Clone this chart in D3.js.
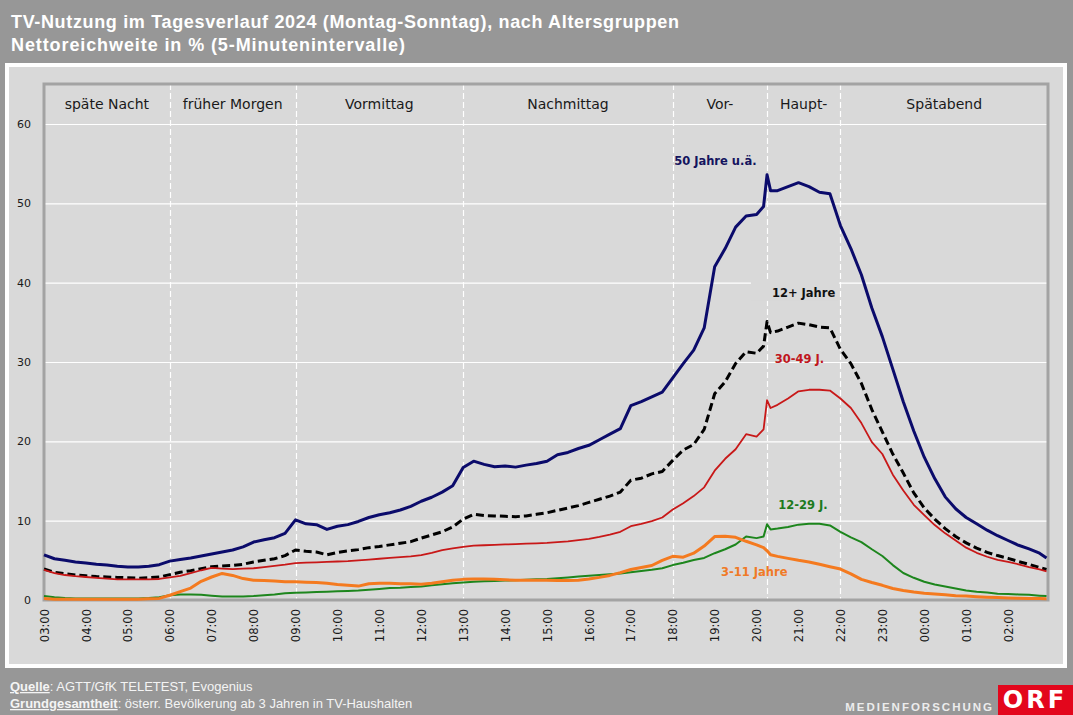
<!DOCTYPE html>
<html><head><meta charset="utf-8">
<script src="https://cdn.jsdelivr.net/npm/d3@7"></script>
<style>
body{margin:0;background:#979797;overflow:hidden}
svg{display:block}
</style>
</head><body>
<svg id="chart" width="1073" height="715"></svg>
<script>
// ---------------- DATA ----------------
const times = [
"03:00","03:15","03:30","03:45","04:00","04:15","04:30","04:45",
"05:00","05:15","05:30","05:45","06:00","06:15","06:30","06:45",
"07:00","07:15","07:30","07:45","08:00","08:15","08:30","08:45",
"09:00","09:15","09:30","09:45","10:00","10:15","10:30","10:45",
"11:00","11:15","11:30","11:45","12:00","12:15","12:30","12:45",
"13:00","13:15","13:30","13:45","14:00","14:15","14:30","14:45",
"15:00","15:15","15:30","15:45","16:00","16:15","16:30","16:45",
"17:00","17:15","17:30","17:45","18:00","18:15","18:30","18:45",
"19:00","19:15","19:30","19:45","20:00","20:10","20:15","20:20","20:30","20:45",
"21:00","21:15","21:30","21:45","22:00","22:15","22:30","22:45",
"23:00","23:15","23:30","23:45","00:00","00:15","00:30","00:45",
"01:00","01:15","01:30","01:45","02:00","02:15","02:30","02:45","02:55"];

const age50plus = [
5.7,5.2,5.0,4.8, 4.65,4.5,4.4,4.25,
4.15,4.15,4.25,4.45, 4.9,5.1,5.3,5.55,
5.8,6.05,6.3,6.7, 7.3,7.6,7.85,8.4,
10.1,9.6,9.5,8.9, 9.3,9.5,9.9,10.4,
10.75,11.0,11.35,11.8, 12.45,12.95,13.6,14.4,
16.7,17.5,17.1,16.8, 16.9,16.75,17.0,17.2,
17.5,18.3,18.6,19.1, 19.5,20.2,20.9,21.6,
24.5,25.0,25.6,26.2, 28.0,29.8,31.5,34.3,
42.0,44.3,47.0,48.4, 48.6,49.6,53.6,51.6,51.6,52.1,
52.6,52.1,51.4,51.2, 47.2,44.3,41.0,36.8,
33.2,29.1,25.0,21.3, 18.0,15.3,13.0,11.5,
10.4,9.6,8.8,8.1, 7.5,6.9,6.45,5.9,5.3];

const age12plus = [
3.9,3.5,3.3,3.15, 3.05,2.95,2.9,2.85,
2.8,2.75,2.8,2.9, 3.2,3.5,3.7,3.95,
4.2,4.3,4.35,4.5, 4.8,5.0,5.2,5.6,
6.3,6.15,6.05,5.7, 6.0,6.2,6.35,6.6,
6.75,6.95,7.15,7.35, 7.8,8.2,8.6,9.2,
10.2,10.8,10.65,10.6, 10.55,10.5,10.6,10.8,
11.0,11.3,11.6,11.9, 12.3,12.7,13.1,13.6,
15.1,15.35,15.9,16.2, 17.6,18.9,19.6,21.5,
26.0,27.5,29.8,31.3, 31.1,32.0,35.1,33.7,33.9,34.4,
34.9,34.7,34.4,34.3, 31.6,29.8,27.3,24.0,
21.2,18.4,16.0,13.5, 11.6,10.2,9.0,8.0,
7.2,6.55,6.0,5.6, 5.25,4.85,4.5,4.1,3.85];

const age30to49 = [
3.8,3.4,3.15,3.0, 2.9,2.8,2.7,2.6,
2.6,2.6,2.6,2.65, 2.85,3.05,3.4,3.75,
4.05,3.95,3.9,3.95, 4.0,4.15,4.3,4.45,
4.65,4.7,4.75,4.8, 4.85,4.9,5.0,5.1,
5.2,5.3,5.4,5.5, 5.65,5.95,6.3,6.5,
6.7,6.85,6.9,6.95, 7.0,7.05,7.1,7.15,
7.2,7.3,7.4,7.55, 7.7,7.95,8.25,8.6,
9.3,9.6,9.95,10.4, 11.4,12.2,13.1,14.2,
16.3,17.8,19.0,20.9, 20.6,21.5,25.2,24.2,24.6,25.4,
26.3,26.5,26.5,26.4, 25.4,24.2,22.3,19.9,
18.4,15.8,13.8,12.0, 10.7,9.45,8.4,7.5,
6.6,5.95,5.45,5.05, 4.8,4.5,4.15,3.85,3.6];

const age12to29 = [
0.5,0.35,0.25,0.2, 0.2,0.2,0.2,0.2,
0.2,0.2,0.25,0.35, 0.6,0.7,0.7,0.65,
0.55,0.45,0.45,0.45, 0.5,0.6,0.7,0.85,
0.9,0.95,1.0,1.05, 1.1,1.15,1.2,1.3,
1.4,1.5,1.55,1.65, 1.7,1.85,2.0,2.1,
2.2,2.3,2.35,2.4, 2.45,2.5,2.55,2.6,
2.65,2.75,2.85,2.95, 3.05,3.15,3.25,3.35,
3.5,3.65,3.8,4.0, 4.4,4.7,5.05,5.3,
5.9,6.4,7.0,8.0, 7.8,8.0,9.55,8.9,9.0,9.2,
9.5,9.6,9.6,9.4, 8.6,7.9,7.3,6.4,
5.55,4.4,3.4,2.8, 2.3,1.95,1.7,1.45,
1.2,1.05,0.95,0.8, 0.75,0.7,0.65,0.55,0.5];

const age3to11 = [
0.2,0.1,0.1,0.1, 0.1,0.1,0.1,0.1,
0.1,0.1,0.15,0.2, 0.6,1.05,1.5,2.35,
2.9,3.35,3.1,2.7, 2.5,2.45,2.4,2.3,
2.3,2.25,2.2,2.1, 1.95,1.85,1.75,2.05,
2.1,2.1,2.05,2.05, 2.0,2.1,2.3,2.5,
2.6,2.65,2.65,2.6, 2.55,2.5,2.5,2.5,
2.5,2.45,2.45,2.5, 2.65,2.85,3.1,3.45,
3.85,4.1,4.35,5.0, 5.5,5.4,5.9,6.8,
8.0,8.05,7.9,7.4, 6.95,6.6,6.2,5.7,5.5,5.25,
5.0,4.8,4.5,4.2, 3.9,3.3,2.6,2.2,
1.85,1.45,1.2,1.0, 0.85,0.75,0.65,0.55,
0.5,0.42,0.35,0.3, 0.25,0.22,0.2,0.18,0.17];

const yTickValues = [0,10,20,30,40,50,60];
const xTickLabels = ["03:00","04:00","05:00","06:00","07:00","08:00","09:00","10:00",
"11:00","12:00","13:00","14:00","15:00","16:00","17:00","18:00","19:00","20:00",
"21:00","22:00","23:00","00:00","01:00","02:00"];
const sectionStarts = ["03:00","06:00","09:00","13:00","18:00","20:15","22:00"];
const sectionNames = ["späte Nacht","früher Morgen","Vormittag","Nachmittag","Vor-","Haupt-","Spätabend"];

const titleLines = ["TV-Nutzung im Tagesverlauf 2024 (Montag-Sonntag), nach Altersgruppen",
                    "Nettoreichweite in % (5-Minutenintervalle)"];

// ---------------- LAYOUT ----------------
const svg = d3.select("#chart");
const W = 1073, H = 715;
const plot = {left:44, right:1048, top:84, bottom:600};
const bg = "#979797", panel = "#d9d9d9";

const toMin = s => { const [h,m] = s.split(":").map(Number); let v = h*60+m-180; if (v<0) v+=1440; return v; };
const x = d3.scaleLinear().domain([0,1440]).range([44,1050]);
const y = d3.scaleLinear().domain([0,60]).range([600,124]);

svg.append("rect").attr("width",W).attr("height",H).attr("fill",bg);
svg.append("rect").attr("x",5).attr("y",63).attr("width",1062).attr("height",605).attr("fill","#ffffff");
svg.append("rect").attr("x",9).attr("y",67).attr("width",1054).attr("height",597).attr("fill",panel);

// title
const title = svg.append("g").attr("font-family","'Liberation Sans', Arial, sans-serif")
  .attr("font-weight","bold").attr("font-size",18).attr("fill","#ffffff");
const titleWidths = [668, 394];
titleLines.forEach((t,i)=> title.append("text").attr("x",11).attr("y",28+i*23)
  .attr("textLength",titleWidths[i]).attr("lengthAdjust","spacing").text(t));

// horizontal gridlines
svg.append("g").selectAll("line").data(yTickValues.filter(d=>d>0)).join("line")
  .attr("x1",plot.left).attr("x2",plot.right)
  .attr("y1",d=>y(d)+0.5).attr("y2",d=>y(d)+0.5)
  .attr("stroke","#ffffff").attr("stroke-width",1.2);

// section dividers
svg.append("g").selectAll("line").data(sectionStarts.slice(1)).join("line")
  .attr("x1",d=>Math.round(x(toMin(d)))+0.5).attr("x2",d=>Math.round(x(toMin(d)))+0.5)
  .attr("y1",plot.top).attr("y2",plot.bottom)
  .attr("stroke","#ffffff").attr("stroke-width",1.2).attr("stroke-dasharray","6,3");

// section labels
const secEnds = sectionStarts.slice(1).map(toMin).concat([1440]);
svg.append("g").selectAll("text").data(sectionNames).join("text")
  .attr("x",(d,i)=> (x(toMin(sectionStarts[i])) + Math.min(x(secEnds[i]),plot.right))/2)
  .attr("y",109).attr("text-anchor","middle")
  .attr("font-family","'DejaVu Sans', Verdana, sans-serif").attr("font-size",14)
  .attr("fill","#1a1a1a").text(d=>d);

// frame
svg.append("rect").attr("x",plot.left).attr("y",plot.top)
  .attr("width",plot.right-plot.left).attr("height",plot.bottom-plot.top)
  .attr("fill","none").attr("stroke","#a3a3a3").attr("stroke-width",3);

// axes
const yAxis = d3.axisLeft(y).tickValues(yTickValues).tickSize(0).tickPadding(0);
const gy = svg.append("g").attr("transform","translate(31,0)").call(yAxis);
gy.select(".domain").remove();
gy.selectAll("text").attr("font-family","'DejaVu Sans', Verdana, sans-serif")
  .attr("font-size",11).attr("fill","#1a1a1a");

const xTickMins = xTickLabels.map(toMin);
const xAxis = d3.axisBottom(x).tickValues(xTickMins).tickFormat((d,i)=>xTickLabels[i]).tickSize(0);
const gx = svg.append("g").attr("transform",`translate(0,${plot.bottom})`).call(xAxis);
gx.select(".domain").remove();
gx.selectAll("text").attr("transform","rotate(-90)").attr("x",-9).attr("y",0).attr("dy","0.36em")
  .style("text-anchor","end").attr("font-family","'DejaVu Sans', Verdana, sans-serif")
  .attr("font-size",11.5).attr("fill","#1a1a1a");

// series
const series = [
  {name:"50 Jahre u.ä.", values:age50plus, color:"#0b0b6b", width:3, dash:null,
   label:{t:"18:02", v:54.8, color:"#14145e"}},
  {name:"12+ Jahre", values:age12plus, color:"#000000", width:3, dash:"8,4",
   label:{t:"20:22", v:38.2, color:"#111111", box:true}},
  {name:"30-49 J.", values:age30to49, color:"#c81818", width:1.8, dash:null,
   label:{t:"20:26", v:29.9, color:"#c0161d"}},
  {name:"12-29 J.", values:age12to29, color:"#1d861d", width:2, dash:null,
   label:{t:"20:31", v:11.5, color:"#1d7a1d"}},
  {name:"3-11 Jahre", values:age3to11, color:"#f47a1f", width:3, dash:null,
   label:{t:"19:09", v:3.0, color:"#f07a26"}}
];
const drawOrder = [1,0,2,3,4];
const line = d3.line().x(d=>x(d[0])).y(d=>y(d[1])).curve(d3.curveLinear);
drawOrder.forEach(i=>{
  const s = series[i];
  const pts = times.map((t,j)=>[toMin(t), s.values[j]]);
  svg.append("path").datum(pts).attr("d",line).attr("fill","none")
    .attr("stroke",s.color).attr("stroke-width",s.width)
    .attr("stroke-linejoin","round")
    .attr("stroke-dasharray",s.dash);
});

// series labels
const lab = svg.append("g").attr("font-family","'DejaVu Sans', Verdana, sans-serif")
  .attr("font-weight","bold").attr("font-size",11.5);
series.forEach(s=>{
  const lx = x(toMin(s.label.t)), ly = y(s.label.v);
  if (s.label.box) {
    lab.append("rect").attr("x",lx-21).attr("y",ly-17).attr("width",88).attr("height",21).attr("fill",panel);
  }
  lab.append("text").attr("x",lx).attr("y",ly).attr("fill",s.label.color).text(s.name);
});

// footer
const foot = svg.append("g").attr("font-family","'Liberation Sans', Arial, sans-serif")
  .attr("font-size",13).attr("fill","#f4f4f4");
const f1 = foot.append("text").attr("x",10).attr("y",691);
f1.append("tspan").attr("font-weight","bold").attr("text-decoration","underline").text("Quelle");
f1.append("tspan").text(": AGTT/GfK TELETEST, Evogenius");
const f2 = foot.append("text").attr("x",10).attr("y",708);
f2.append("tspan").attr("font-weight","bold").attr("text-decoration","underline").text("Grundgesamtheit");
f2.append("tspan").text(": österr. Bevölkerung ab 3 Jahren in TV-Haushalten");

// logo
svg.append("text").attr("x",994).attr("y",711).attr("text-anchor","end")
  .attr("font-family","'Liberation Sans', Arial, sans-serif").attr("font-weight","bold")
  .attr("font-size",11.5).attr("letter-spacing",2).attr("fill","#ececec").text("MEDIENFORSCHUNG");
svg.append("rect").attr("x",998).attr("y",685).attr("width",75).attr("height",30).attr("fill","#e3061c");
svg.append("text").attr("x",1035).attr("y",708).attr("text-anchor","middle")
  .attr("font-family","'DejaVu Sans', Verdana, sans-serif").attr("font-weight","bold")
  .attr("font-size",24).attr("letter-spacing",3).attr("fill","#ffffff").text("ORF");
</script>
</body></html>
